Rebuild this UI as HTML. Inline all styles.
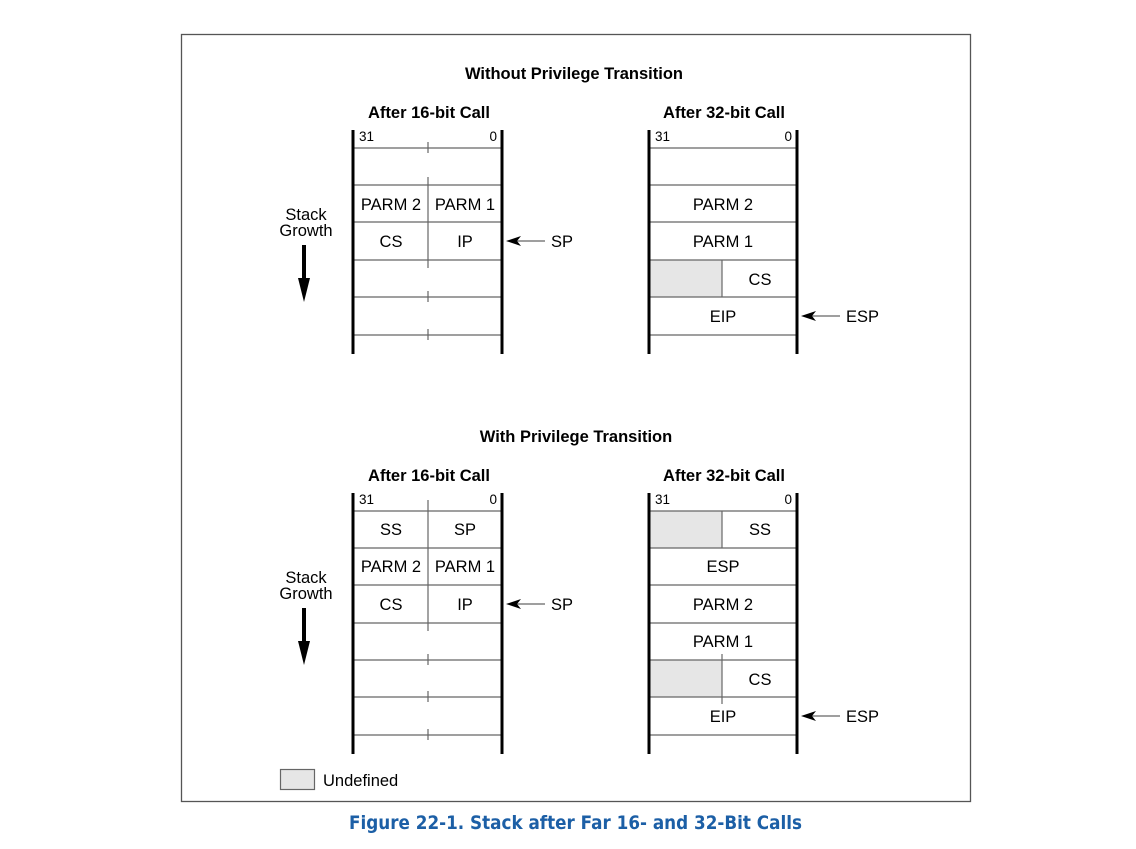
<!DOCTYPE html>
<html><head><meta charset="utf-8"><style>
html,body{margin:0;padding:0;background:#fff;}
svg{display:block;}
text{font-family:"Liberation Sans",Arial,sans-serif;font-size:16.5px;fill:#000;}
.b{font-weight:bold;}
.s{font-size:13.5px;}
.cap{font-family:"DejaVu Sans","Liberation Sans",sans-serif;font-size:19px;font-weight:bold;fill:#1c5fa6;}
.h{stroke:#666;stroke-width:1.2;}
.v{stroke:#000;stroke-width:3;}
.g{fill:#e6e6e6;}
</style></head><body>
<svg width="1136" height="849" viewBox="0 0 1136 849" xmlns="http://www.w3.org/2000/svg">
<rect x="181.5" y="34.5" width="789" height="767" fill="none" stroke="#555" stroke-width="1.3"/>

<!-- TOP -->
<text class="b" x="574" y="79" text-anchor="middle">Without Privilege Transition</text>
<text class="b" x="429" y="118" text-anchor="middle">After 16-bit Call</text>
<text class="b" x="724" y="118" text-anchor="middle">After 32-bit Call</text>

<g class="h">
<line x1="353" y1="148" x2="502" y2="148"/><line x1="353" y1="185" x2="502" y2="185"/>
<line x1="353" y1="222" x2="502" y2="222"/><line x1="353" y1="260" x2="502" y2="260"/>
<line x1="353" y1="297" x2="502" y2="297"/><line x1="353" y1="335" x2="502" y2="335"/>
<line x1="428" y1="142" x2="428" y2="153"/><line x1="428" y1="177" x2="428" y2="268"/>
<line x1="428" y1="291" x2="428" y2="302"/><line x1="428" y1="329" x2="428" y2="340"/>
</g>
<line class="v" x1="353" y1="130" x2="353" y2="354"/><line class="v" x1="502" y1="130" x2="502" y2="354"/>
<text class="s" x="359" y="141">31</text><text class="s" x="497" y="141" text-anchor="end">0</text>
<text x="391" y="210" text-anchor="middle">PARM 2</text><text x="465" y="210" text-anchor="middle">PARM 1</text>
<text x="391" y="247" text-anchor="middle">CS</text><text x="465" y="247" text-anchor="middle">IP</text>
<line x1="545" y1="241" x2="516" y2="241" stroke="#666" stroke-width="1.3"/>
<path d="M506,241 L521,236 L517,241 L521,246 Z" fill="#000"/>
<text x="551" y="247">SP</text>
<text x="306" y="220" text-anchor="middle">Stack</text><text x="306" y="236" text-anchor="middle">Growth</text>
<line x1="304" y1="245" x2="304" y2="282" stroke="#000" stroke-width="4"/>
<path d="M298,278 L310,278 L304,302 Z" fill="#000"/>

<rect class="g" x="649" y="260" width="73" height="37"/>
<g class="h">
<line x1="649" y1="148" x2="797" y2="148"/><line x1="649" y1="185" x2="797" y2="185"/>
<line x1="649" y1="222" x2="797" y2="222"/><line x1="649" y1="260" x2="797" y2="260"/>
<line x1="649" y1="297" x2="797" y2="297"/><line x1="649" y1="335" x2="797" y2="335"/>
<line x1="722" y1="260" x2="722" y2="297"/>
</g>
<line class="v" x1="649" y1="130" x2="649" y2="354"/><line class="v" x1="797" y1="130" x2="797" y2="354"/>
<text class="s" x="655" y="141">31</text><text class="s" x="792" y="141" text-anchor="end">0</text>
<text x="723" y="210" text-anchor="middle">PARM 2</text>
<text x="723" y="247" text-anchor="middle">PARM 1</text>
<text x="760" y="285" text-anchor="middle">CS</text>
<text x="723" y="322" text-anchor="middle">EIP</text>
<line x1="840" y1="316" x2="811" y2="316" stroke="#666" stroke-width="1.3"/>
<path d="M801,316 L816,311 L812,316 L816,321 Z" fill="#000"/>
<text x="846" y="322">ESP</text>

<!-- BOTTOM -->
<text class="b" x="576" y="442" text-anchor="middle">With Privilege Transition</text>
<text class="b" x="429" y="481" text-anchor="middle">After 16-bit Call</text>
<text class="b" x="724" y="481" text-anchor="middle">After 32-bit Call</text>

<g class="h">
<line x1="353" y1="511" x2="502" y2="511"/><line x1="353" y1="548" x2="502" y2="548"/>
<line x1="353" y1="585" x2="502" y2="585"/><line x1="353" y1="623" x2="502" y2="623"/>
<line x1="353" y1="660" x2="502" y2="660"/><line x1="353" y1="697" x2="502" y2="697"/>
<line x1="353" y1="735" x2="502" y2="735"/>
<line x1="428" y1="500" x2="428" y2="631"/>
<line x1="428" y1="654" x2="428" y2="665"/><line x1="428" y1="691" x2="428" y2="702"/>
<line x1="428" y1="729" x2="428" y2="740"/>
</g>
<line class="v" x1="353" y1="493" x2="353" y2="754"/><line class="v" x1="502" y1="493" x2="502" y2="754"/>
<text class="s" x="359" y="504">31</text><text class="s" x="497" y="504" text-anchor="end">0</text>
<text x="391" y="535" text-anchor="middle">SS</text><text x="465" y="535" text-anchor="middle">SP</text>
<text x="391" y="572" text-anchor="middle">PARM 2</text><text x="465" y="572" text-anchor="middle">PARM 1</text>
<text x="391" y="610" text-anchor="middle">CS</text><text x="465" y="610" text-anchor="middle">IP</text>
<line x1="545" y1="604" x2="516" y2="604" stroke="#666" stroke-width="1.3"/>
<path d="M506,604 L521,599 L517,604 L521,609 Z" fill="#000"/>
<text x="551" y="610">SP</text>
<text x="306" y="583" text-anchor="middle">Stack</text><text x="306" y="599" text-anchor="middle">Growth</text>
<line x1="304" y1="608" x2="304" y2="645" stroke="#000" stroke-width="4"/>
<path d="M298,641 L310,641 L304,665 Z" fill="#000"/>

<rect class="g" x="649" y="511" width="73" height="37"/>
<rect class="g" x="649" y="660" width="73" height="37"/>
<g class="h">
<line x1="649" y1="511" x2="797" y2="511"/><line x1="649" y1="548" x2="797" y2="548"/>
<line x1="649" y1="585" x2="797" y2="585"/><line x1="649" y1="623" x2="797" y2="623"/>
<line x1="649" y1="660" x2="797" y2="660"/><line x1="649" y1="697" x2="797" y2="697"/>
<line x1="649" y1="735" x2="797" y2="735"/>
<line x1="722" y1="511" x2="722" y2="548"/>
<line x1="722" y1="654" x2="722" y2="704"/>
</g>
<line class="v" x1="649" y1="493" x2="649" y2="754"/><line class="v" x1="797" y1="493" x2="797" y2="754"/>
<text class="s" x="655" y="504">31</text><text class="s" x="792" y="504" text-anchor="end">0</text>
<text x="760" y="535" text-anchor="middle">SS</text>
<text x="723" y="572" text-anchor="middle">ESP</text>
<text x="723" y="610" text-anchor="middle">PARM 2</text>
<text x="723" y="647" text-anchor="middle">PARM 1</text>
<text x="760" y="685" text-anchor="middle">CS</text>
<text x="723" y="722" text-anchor="middle">EIP</text>
<line x1="840" y1="716" x2="811" y2="716" stroke="#666" stroke-width="1.3"/>
<path d="M801,716 L816,711 L812,716 L816,721 Z" fill="#000"/>
<text x="846" y="722">ESP</text>

<rect x="280.5" y="769.5" width="34" height="20" fill="#e6e6e6" stroke="#666" stroke-width="1.2"/>
<text x="323" y="786">Undefined</text>

<text class="cap" x="349" y="829" textLength="453" lengthAdjust="spacingAndGlyphs">Figure 22-1.  Stack after Far 16- and 32-Bit Calls</text>
</svg>
</body></html>
